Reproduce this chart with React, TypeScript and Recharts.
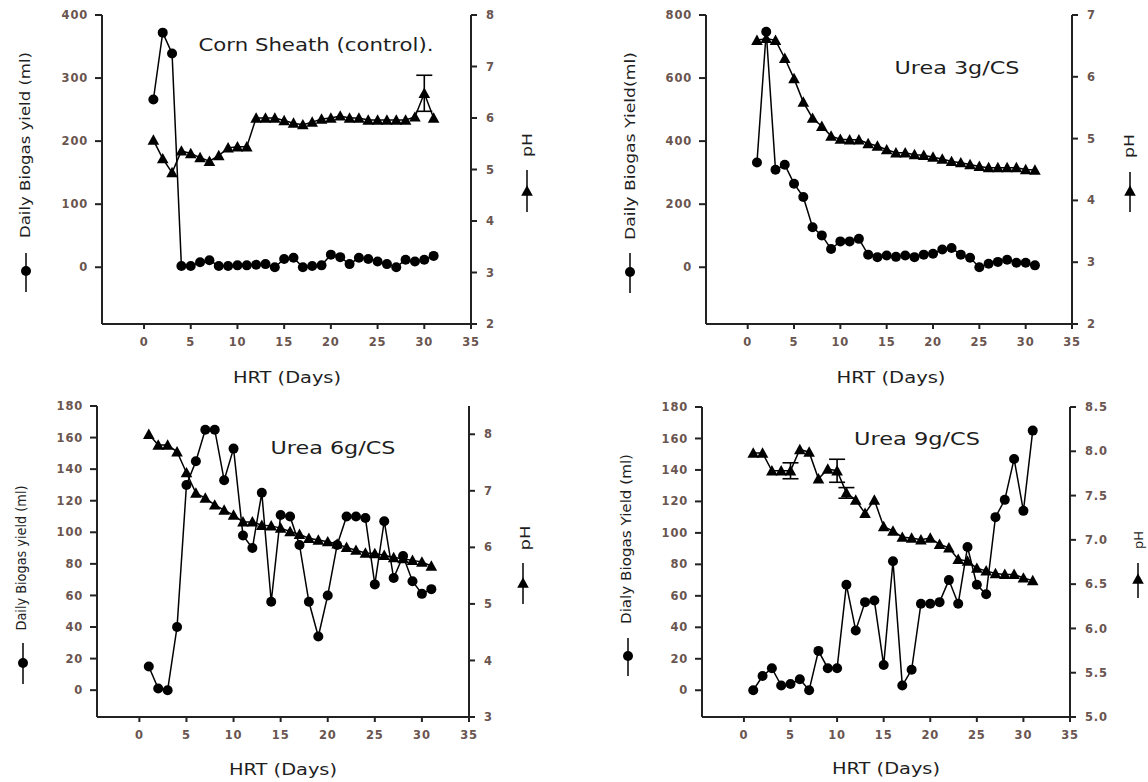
import { LineChart, Line, XAxis, YAxis, ErrorBar } from 'recharts';

// days of hydraulic retention, shared by every panel
const DAYS = [1, 2, 3, 4, 5, 6, 7, 8, 9, 10, 11, 12, 13, 14, 15, 16, 17, 18, 19, 20, 21, 22, 23, 24, 25, 26, 27, 28, 29, 30, 31];
const X_TICKS = [0, 5, 10, 15, 20, 25, 30, 35];

// Corn sheath (control)
const CTRL_BIOGAS = [266, 372, 339, 2, 2, 8, 11, 2, 2, 3, 3, 4, 5, 0, 13, 15, 0, 2, 3, 20, 16, 5, 15, 13, 9, 5, 0, 12, 9, 12, 18];
const CTRL_PH = [5.57, 5.21, 4.94, 5.36, 5.31, 5.23, 5.16, 5.27, 5.42, 5.44, 5.44, 6.0, 6.0, 6.0, 5.95, 5.9, 5.87, 5.92, 5.98, 6.0, 6.04, 6.0, 6.0, 5.96, 5.96, 5.96, 5.96, 5.96, 6.02, 6.48, 6.0];
const CTRL_ERR_DAYS = [30];
const CTRL_ERR = [0.35];

// Urea 3g/CS
const U3_BIOGAS = [332, 747, 309, 325, 265, 223, 127, 101, 58, 82, 82, 90, 40, 32, 37, 33, 37, 32, 40, 43, 56, 61, 40, 30, 0, 11, 17, 24, 14, 14, 6];
const U3_PH = [6.59, 6.62, 6.59, 6.3, 5.97, 5.59, 5.33, 5.2, 5.04, 4.99, 4.98, 4.98, 4.92, 4.88, 4.82, 4.77, 4.77, 4.74, 4.73, 4.7, 4.67, 4.63, 4.61, 4.58, 4.55, 4.53, 4.53, 4.53, 4.53, 4.5, 4.49];

// Urea 6g/CS
const U6_BIOGAS = [15, 1, 0, 40, 130, 145, 165, 165, 133, 153, 98, 90, 125, 56, 111, 110, 92, 56, 34, 60, 92, 110, 110, 109, 67, 107, 71, 85, 69, 61, 64];
const U6_PH = [8.0, 7.81, 7.81, 7.69, 7.32, 6.96, 6.87, 6.75, 6.66, 6.57, 6.45, 6.45, 6.39, 6.38, 6.34, 6.28, 6.23, 6.16, 6.13, 6.1, 6.06, 6.0, 5.95, 5.9, 5.89, 5.86, 5.82, 5.8, 5.77, 5.74, 5.67];

// Urea 9g/CS
const U9_BIOGAS = [0, 9, 14, 3, 4, 7, 0, 25, 14, 14, 67, 38, 56, 57, 16, 82, 3, 13, 55, 55, 56, 70, 55, 91, 67, 61, 110, 121, 147, 114, 165];
const U9_PH = [7.98, 7.98, 7.78, 7.78, 7.78, 8.02, 7.99, 7.69, 7.8, 7.78, 7.53, 7.45, 7.3, 7.45, 7.15, 7.1, 7.03, 7.02, 7.0, 7.02, 6.95, 6.91, 6.78, 6.76, 6.68, 6.65, 6.62, 6.61, 6.61, 6.57, 6.54];
const U9_ERR_DAYS = [5, 10, 11];
const U9_ERR = [0.09, 0.13, 0.06];

const buildRows = (biogas: number[], ph: number[], errDays: number[] = [], errs: number[] = []) =>
  DAYS.map((day, i) => {
    const k = errDays.indexOf(day);
    return { day, biogas: biogas[i], ph: ph[i], phErr: k >= 0 ? errs[k] : undefined };
  });

const FONT = 'DejaVu Sans, Verdana, sans-serif';
const TICK_COLOR = '#6a5550';
const AXIS = { stroke: '#222', strokeWidth: 2 };
const tickStyle = { fill: TICK_COLOR, fontSize: 11.5, fontWeight: 'bold', fontFamily: FONT, letterSpacing: 0.8 };

const circleDot = (p: any) => {
  if (p.cx == null || p.cy == null) return <g key={`c${p.index}`} />;
  return <circle key={`c${p.index}`} cx={p.cx} cy={p.cy} r={5} fill="#000" />;
};

const triPath = (cx: number, cy: number, s = 5.8) =>
  `M${cx},${cy - s} L${cx + s},${cy + s * 0.8} L${cx - s},${cy + s * 0.8} Z`;

const triDot = (p: any) => {
  if (p.cx == null || p.cy == null) return <g key={`t${p.index}`} />;
  return <path key={`t${p.index}`} d={triPath(p.cx, p.cy)} fill="#000" />;
};

interface PanelProps {
  ox: number;
  oy: number;
  margin: { top: number; right: number; bottom: number; left: number };
  rows: ReturnType<typeof buildRows>;
  leftDomain: [number, number];
  leftTicks: number[];
  rightDomain: [number, number];
  rightTicks: number[];
  rightFmt?: (v: number) => string;
}

function Panel({ ox, oy, margin, rows, leftDomain, leftTicks, rightDomain, rightTicks, rightFmt }: PanelProps) {
  return (
    <div style={{ position: 'absolute', left: ox, top: oy }}>
      <LineChart width={574} height={391} data={rows} margin={margin}>
        <XAxis
          dataKey="day"
          type="number"
          domain={[-4.5, 35]}
          ticks={X_TICKS}
          allowDataOverflow
          height={30}
          tickSize={5}
          tickMargin={9}
          axisLine={AXIS}
          tickLine={AXIS}
          tick={tickStyle}
        />
        <XAxis
          xAxisId="top"
          orientation="top"
          dataKey="day"
          type="number"
          domain={[-4.5, 35]}
          allowDataOverflow
          height={0}
          tick={false}
          tickLine={false}
          axisLine={AXIS}
        />
        <YAxis
          yAxisId="l"
          domain={leftDomain}
          ticks={leftTicks}
          allowDataOverflow
          width={50}
          tickSize={7}
          tickMargin={7}
          axisLine={AXIS}
          tickLine={AXIS}
          tick={tickStyle}
        />
        <YAxis
          yAxisId="r"
          orientation="right"
          domain={rightDomain}
          ticks={rightTicks}
          allowDataOverflow
          width={50}
          tickSize={6}
          tickMargin={9}
          axisLine={AXIS}
          tickLine={AXIS}
          tick={tickStyle}
          tickFormatter={rightFmt}
        />
        <Line
          yAxisId="r"
          dataKey="ph"
          stroke="#000"
          strokeWidth={1.5}
          dot={triDot}
          activeDot={false}
          isAnimationActive={false}
        >
          <ErrorBar dataKey="phErr" direction="y" width={8} stroke="#000" strokeWidth={1.6} />
        </Line>
        <Line
          yAxisId="l"
          dataKey="biogas"
          stroke="#000"
          strokeWidth={1.5}
          dot={circleDot}
          activeDot={false}
          isAnimationActive={false}
        />
      </LineChart>
    </div>
  );
}

const textBase = { fontFamily: FONT, fill: '#1e1e1e' };

function SideLabel({ x, y, len, size, text }: { x: number; y: number; len: number; size: number; text: string }) {
  return (
    <text
      transform={`translate(${x},${y}) rotate(-90)`}
      textAnchor="middle"
      dominantBaseline="central"
      fontSize={size}
      textLength={len}
      lengthAdjust="spacingAndGlyphs"
      {...textBase}
    >
      {text}
    </text>
  );
}

function FlatLabel({ x, y, len, size, text }: { x: number; y: number; len: number; size: number; text: string }) {
  return (
    <text
      x={x}
      y={y}
      textAnchor="middle"
      dominantBaseline="central"
      fontSize={size}
      textLength={len}
      lengthAdjust="spacingAndGlyphs"
      {...textBase}
    >
      {text}
    </text>
  );
}

function KeyCircle({ x, y1, y2, my }: { x: number; y1: number; y2: number; my: number }) {
  return (
    <g>
      <line x1={x} x2={x} y1={y1} y2={y2} stroke="#000" strokeWidth={1.5} />
      <circle cx={x} cy={my} r={5} fill="#000" />
    </g>
  );
}

function KeyTri({ x, y1, y2, my }: { x: number; y1: number; y2: number; my: number }) {
  return (
    <g>
      <line x1={x} x2={x} y1={y1} y2={y2} stroke="#000" strokeWidth={1.5} />
      <path d={triPath(x, my)} fill="#000" />
    </g>
  );
}

export default function App() {
  return (
    <div style={{ position: 'absolute', left: 0, top: 0, width: 1148, height: 782, background: '#fff', overflow: 'hidden' }}>
      <Panel
        ox={0}
        oy={0}
        margin={{ top: 15, right: 53, bottom: 37, left: 52 }}
        rows={buildRows(CTRL_BIOGAS, CTRL_PH, CTRL_ERR_DAYS, CTRL_ERR)}
        leftDomain={[-90, 400]}
        leftTicks={[0, 100, 200, 300, 400]}
        rightDomain={[2, 8]}
        rightTicks={[2, 3, 4, 5, 6, 7, 8]}
      />
      <Panel
        ox={574}
        oy={0}
        margin={{ top: 15, right: 26, bottom: 37, left: 82 }}
        rows={buildRows(U3_BIOGAS, U3_PH)}
        leftDomain={[-180, 800]}
        leftTicks={[0, 200, 400, 600, 800]}
        rightDomain={[2, 7]}
        rightTicks={[2, 3, 4, 5, 6, 7]}
      />
      <Panel
        ox={0}
        oy={391}
        margin={{ top: 15, right: 55, bottom: 35, left: 47 }}
        rows={buildRows(U6_BIOGAS, U6_PH)}
        leftDomain={[-17, 180]}
        leftTicks={[0, 20, 40, 60, 80, 100, 120, 140, 160, 180]}
        rightDomain={[3, 8.5]}
        rightTicks={[3, 4, 5, 6, 7, 8]}
      />
      <Panel
        ox={574}
        oy={391}
        margin={{ top: 16, right: 28, bottom: 35, left: 78 }}
        rows={buildRows(U9_BIOGAS, U9_PH, U9_ERR_DAYS, U9_ERR)}
        leftDomain={[-17, 180]}
        leftTicks={[0, 20, 40, 60, 80, 100, 120, 140, 160, 180]}
        rightDomain={[5, 8.5]}
        rightTicks={[5, 5.5, 6, 6.5, 7, 7.5, 8, 8.5]}
        rightFmt={(v: number) => v.toFixed(1)}
      />

      <svg width={1148} height={782} style={{ position: 'absolute', left: 0, top: 0, pointerEvents: 'none' }}>
        {/* panel titles */}
        <FlatLabel x={316} y={45} len={235} size={17} text="Corn Sheath (control)." />
        <FlatLabel x={957} y={68} len={125} size={17} text="Urea 3g/CS" />
        <FlatLabel x={333} y={448} len={125} size={17} text="Urea 6g/CS" />
        <FlatLabel x={917} y={439} len={126} size={17} text="Urea 9g/CS" />

        {/* x axis titles */}
        <FlatLabel x={287} y={377} len={108} size={16} text="HRT (Days)" />
        <FlatLabel x={891} y={377} len={109} size={16} text="HRT (Days)" />
        <FlatLabel x={283} y={769} len={108} size={16} text="HRT (Days)" />
        <FlatLabel x={886} y={768} len={108} size={16} text="HRT (Days)" />

        {/* left axis titles and keys */}
        <SideLabel x={25} y={145} len={186} size={14} text="Daily Biogas yield (ml)" />
        <KeyCircle x={26} y1={253} y2={292} my={271} />
        <SideLabel x={630} y={146} len={188} size={14} text="Daily Biogas Yield(ml)" />
        <KeyCircle x={630} y1={253} y2={293} my={272} />
        <SideLabel x={21} y={558} len={145} size={14} text="Daily Biogas yield (ml)" />
        <KeyCircle x={23} y1={643} y2={684} my={663} />
        <SideLabel x={626} y={539} len={170} size={14} text="Dialy Biogas Yield (ml)" />
        <KeyCircle x={628} y1={638} y2={676} my={656} />

        {/* right axis titles and keys */}
        <SideLabel x={527} y={145} len={24} size={14} text="pH" />
        <KeyTri x={527} y1={170} y2={212} my={191} />
        <SideLabel x={1129} y={146} len={24} size={14} text="pH" />
        <KeyTri x={1130} y1={172} y2={212} my={191} />
        <SideLabel x={525} y={538} len={25} size={14} text="pH" />
        <KeyTri x={523} y1={563} y2={604} my={583} />
        <SideLabel x={1139} y={540} len={18} size={12} text="pH" />
        <KeyTri x={1138} y1={563} y2={598} my={579} />
      </svg>
    </div>
  );
}
